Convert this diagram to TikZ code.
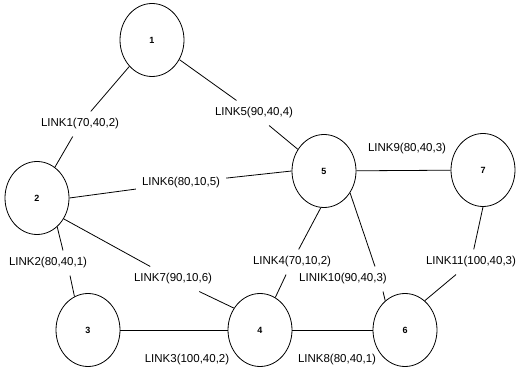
\documentclass[tikz,border=0pt]{standalone}
\usepackage{fontspec}
\setmainfont{Liberation Sans}
\usetikzlibrary{shapes.geometric}
\tikzset{
  station/.style={ellipse, draw, line width=0.8pt, minimum width=64pt, minimum height=73pt, inner sep=0pt, font=\fontsize{9}{10}\selectfont\bfseries},
  lab/.style={font=\fontsize{11.5}{13}\selectfont, inner xsep=6pt, inner ysep=7pt},
  conn/.style={line width=0.8pt}
}
\begin{document}
\begin{tikzpicture}[x=1pt,y=-1pt]
\path[use as bounding box, fill=white] (0,0) rectangle (520,374);
% stations
\node[station] (n1) at (152,40) {1};
\node[station] (n2) at (37,198) {2};
\node[station] (n3) at (88,330) {3};
\node[station] (n4) at (260,330) {4};
\node[station] (n5) at (324,171) {5};
\node[station] (n7) at (483,170) {7};
\node[station] (n6) at (405,330) {6};
% labels
\node[lab] (l1) at (80,124) {LINK1(70,40,2)};
\node[lab] (l5) at (254,113) {LINK5(90,40,4)};
\node[lab] (l6) at (181,183) {LINK6(80,10,5)};
\node[lab] (l9) at (407,149) {LINK9(80,40,3)};
\node[lab] (l2) at (48,263) {LINK2(80,40,1)};
\node[lab] (l7) at (173,279) {LINK7(90,10,6)};
\node[lab] (l4) at (292,262) {LINK4(70,10,2)};
\node[lab] (l10) at (343,279) {LINIK10(90,40,3)};
\node[lab] (l11) at (471,262) {LINK11(100,40,3)};
\node[lab] (l3) at (187,360) {LINK3(100,40,2)};
\node[lab] (l8) at (337,360) {LINK8(80,40,1)};
% connectors
\draw[conn] (n1) -- (l1) -- (n2);
\draw[conn] (n1) -- (l5) -- (n5);
\draw[conn] (n2.0) -- (l6) -- (n5.180);
\draw[conn] (n2.-55) -- ([xshift=15pt]l2.north);
\draw[conn] ([xshift=22pt]l2.south) -- (n3.112);
\draw[conn] (n2.-38) -- (l7) -- (n4.140);
\draw[conn] (n3) -- (n4);
\draw[conn] (n4) -- (n6);
\draw[conn] (n5) -- (n7);
\draw[conn] (n5.-95) -- (l4) -- (n4);
\draw[conn] (n5.-40) -- ([xshift=-18pt]l10.north east);
\draw[conn] ([xshift=-10pt]l10.south east) -- (n6.124);
\draw[conn] (n7.-90) -- (l11) -- (n6.56);
\end{tikzpicture}
\end{document}
